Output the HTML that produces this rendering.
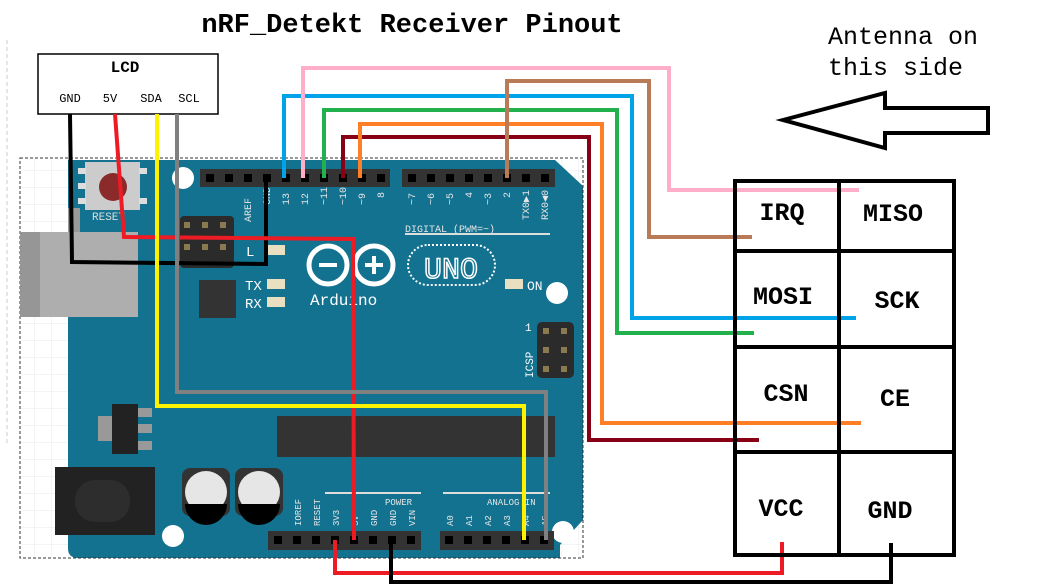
<!DOCTYPE html>
<html><head><meta charset="utf-8"><style>
html,body{margin:0;padding:0;background:#fff;}
svg{display:block;}
text{font-family:"Liberation Mono","DejaVu Sans Mono",monospace;}
</style></head><body>
<svg width="1040" height="585" viewBox="0 0 1040 585" xmlns="http://www.w3.org/2000/svg">
<defs>
<pattern id="grid" width="17" height="17" patternUnits="userSpaceOnUse">
<path d="M17 0H0V17" fill="none" stroke="#e4e8ec" stroke-width="1"/>
</pattern>
</defs>
<rect width="1040" height="585" fill="#fff"/>
<line x1="7" y1="40" x2="7" y2="445" stroke="#ccc" stroke-dasharray="4,3"/>
<text x="412" y="32" font-size="27" font-weight="bold" text-anchor="middle" fill="#000">nRF_Detekt Receiver Pinout</text>
<text x="828" y="44" font-size="25" fill="#000">Antenna on</text>
<text x="828" y="75" font-size="25" fill="#000">this side</text>
<polygon points="783,120 885,93 885,108 988,108 988,133 885,133 885,148" fill="#fff" stroke="#000" stroke-width="4" stroke-linejoin="miter"/>

<rect x="20" y="158" width="563" height="400" fill="url(#grid)"/>
<path d="M68,160 H555 L583,186 V520 L560,545 V558 H78 Q68,558 68,548 Z" fill="#127290"/>
<rect x="20" y="158" width="563" height="400" fill="none" stroke="#333" stroke-dasharray="3,2" stroke-width="1"/>
<rect x="20" y="232" width="118" height="85" fill="#aeaeae"/>
<rect x="20" y="232" width="20" height="85" fill="#969696"/>
<rect x="68" y="208" width="12" height="24" fill="#999"/>
<rect x="55" y="467" width="100" height="68" fill="#222"/>
<rect x="75" y="480" width="55" height="42" rx="20" fill="#2d2d2d"/>
<rect x="85" y="162" width="55" height="48" fill="#ccc"/>
<rect x="78" y="168" width="8" height="6" fill="#ddd"/><rect x="78" y="183" width="8" height="6" fill="#ddd"/><rect x="78" y="198" width="8" height="6" fill="#ddd"/>
<rect x="139" y="168" width="8" height="6" fill="#ddd"/><rect x="139" y="198" width="8" height="6" fill="#ddd"/>
<circle cx="113" cy="187" r="14" fill="#8a2a2a"/>
<text x="92" y="220" font-size="11" fill="#ddd">RESET</text>
<circle cx="183" cy="178" r="11" fill="#fff"/>
<circle cx="557" cy="293" r="11" fill="#fff"/>
<circle cx="563" cy="532" r="11" fill="#fff"/>
<circle cx="173" cy="536" r="11" fill="#fff"/>
<rect x="200" y="169" width="190" height="18" fill="#333"/>
<rect x="402" y="169" width="153" height="18" fill="#333"/>
<g fill="#000">
<rect x="206" y="174" width="8" height="8"/><rect x="225" y="174" width="8" height="8"/><rect x="244" y="174" width="8" height="8"/><rect x="263" y="174" width="8" height="8"/><rect x="282" y="174" width="8" height="8"/><rect x="301" y="174" width="8" height="8"/><rect x="320" y="174" width="8" height="8"/><rect x="339" y="174" width="8" height="8"/><rect x="358" y="174" width="8" height="8"/><rect x="377" y="174" width="8" height="8"/>
<rect x="408" y="174" width="8" height="8"/><rect x="427" y="174" width="8" height="8"/><rect x="446" y="174" width="8" height="8"/><rect x="465" y="174" width="8" height="8"/><rect x="484" y="174" width="8" height="8"/><rect x="503" y="174" width="8" height="8"/><rect x="522" y="174" width="8" height="8"/><rect x="541" y="174" width="8" height="8"/>
</g>
<g fill="#e6e6e6" font-size="10">
<text transform="translate(251,222) rotate(-90)">AREF</text>
<text transform="translate(270,205) rotate(-90)">GND</text>
<text transform="translate(289,205) rotate(-90)">13</text>
<text transform="translate(308,205) rotate(-90)">12</text>
<text transform="translate(327,205) rotate(-90)">~11</text>
<text transform="translate(346,205) rotate(-90)">~10</text>
<text transform="translate(365,205) rotate(-90)">~9</text>
<text transform="translate(384,198) rotate(-90)">8</text>
<text transform="translate(415,205) rotate(-90)">~7</text>
<text transform="translate(434,205) rotate(-90)">~6</text>
<text transform="translate(453,205) rotate(-90)">~5</text>
<text transform="translate(472,198) rotate(-90)">4</text>
<text transform="translate(491,205) rotate(-90)">~3</text>
<text transform="translate(510,198) rotate(-90)">2</text>
<text transform="translate(529,220) rotate(-90)">TX0▶1</text>
<text transform="translate(548,220) rotate(-90)">RX0◀0</text>
<text x="405" y="232">DIGITAL (PWM=~)</text>
</g>
<rect x="405" y="233" width="145" height="2" fill="#ddd"/>
<rect x="180" y="216" width="54" height="52" rx="4" fill="#2b2b2b"/>
<g fill="#8a7a50"><rect x="184" y="222" width="6" height="6"/><rect x="202" y="222" width="6" height="6"/><rect x="220" y="222" width="6" height="6"/><rect x="184" y="244" width="6" height="6"/><rect x="202" y="244" width="6" height="6"/><rect x="220" y="244" width="6" height="6"/></g>
<circle cx="328" cy="265" r="19" fill="none" stroke="#fff" stroke-width="5"/>
<circle cx="374" cy="265" r="19" fill="none" stroke="#fff" stroke-width="5"/>
<rect x="319" y="263" width="18" height="4" fill="#fff"/>
<rect x="365" y="263" width="18" height="4" fill="#fff"/><rect x="372" y="256" width="4" height="18" fill="#fff"/>
<rect x="408" y="245" width="87" height="40" rx="20" fill="none" stroke="#fff" stroke-width="2" stroke-dasharray="2,2"/>
<text x="451" y="278" font-family="Liberation Sans,sans-serif" font-size="30" fill="#127290" stroke="#fff" stroke-width="1.5" text-anchor="middle">UNO</text>
<text x="310" y="305" font-size="16" fill="#fff">Arduino</text>
<text x="246" y="256" font-size="14" fill="#fff">L</text>
<text x="245" y="290" font-size="14" fill="#fff">TX</text>
<text x="245" y="308" font-size="14" fill="#fff">RX</text>
<text x="527" y="290" font-size="13" fill="#fff">ON</text>
<g fill="#e8e0c0"><rect x="267" y="279" width="18" height="10"/><rect x="267" y="297" width="18" height="10"/><rect x="267" y="245" width="18" height="10"/><rect x="505" y="279" width="18" height="10"/></g>
<rect x="199" y="280" width="37" height="38" fill="#333"/>
<rect x="537" y="322" width="37" height="56" rx="5" fill="#2b2b2b"/>
<g fill="#8a7a50"><rect x="543" y="328" width="6" height="6"/><rect x="561" y="328" width="6" height="6"/><rect x="543" y="347" width="6" height="6"/><rect x="561" y="347" width="6" height="6"/><rect x="543" y="366" width="6" height="6"/><rect x="561" y="366" width="6" height="6"/></g>
<text transform="translate(533,378) rotate(-90)" font-size="11" fill="#fff">ICSP</text>
<text x="525" y="331" font-size="11" fill="#fff">1</text>
<rect x="98" y="416" width="15" height="25" fill="#999"/>
<rect x="138" y="408" width="14" height="9" fill="#999"/><rect x="138" y="424" width="14" height="9" fill="#999"/><rect x="138" y="441" width="14" height="9" fill="#999"/>
<rect x="112" y="404" width="26" height="50" fill="#222"/>
<rect x="277" y="416" width="278" height="41" fill="#333"/>
<rect x="182" y="468" width="48" height="48" rx="8" fill="#333"/>
<rect x="235" y="468" width="48" height="48" rx="8" fill="#333"/>
<circle cx="206" cy="492" r="21" fill="#e6e6e6"/><circle cx="259" cy="492" r="21" fill="#e6e6e6"/>
<path d="M185,504 A21,21 0 0 0 227,504 Z" fill="#000"/><path d="M238,504 A21,21 0 0 0 280,504 Z" fill="#000"/>
<rect x="268" y="531" width="153" height="19" fill="#333"/>
<rect x="440" y="531" width="114" height="19" fill="#333"/>
<g fill="#000">
<rect x="274" y="536" width="8" height="8"/><rect x="293" y="536" width="8" height="8"/><rect x="312" y="536" width="8" height="8"/><rect x="331" y="536" width="8" height="8"/><rect x="350" y="536" width="8" height="8"/><rect x="369" y="536" width="8" height="8"/><rect x="388" y="536" width="8" height="8"/><rect x="407" y="536" width="8" height="8"/>
<rect x="445" y="536" width="8" height="8"/><rect x="464" y="536" width="8" height="8"/><rect x="483" y="536" width="8" height="8"/><rect x="502" y="536" width="8" height="8"/><rect x="521" y="536" width="8" height="8"/><rect x="540" y="536" width="8" height="8"/>
</g>
<rect x="325" y="492" width="96" height="2" fill="#ddd"/>
<rect x="443" y="492" width="107" height="2" fill="#ddd"/>
<g fill="#e6e6e6" font-size="9">
<text x="385" y="505">POWER</text>
<text x="487" y="505">ANALOG IN</text>
<text transform="translate(301,526) rotate(-90)">IOREF</text>
<text transform="translate(320,526) rotate(-90)">RESET</text>
<text transform="translate(339,526) rotate(-90)">3V3</text>
<text transform="translate(358,526) rotate(-90)">5V</text>
<text transform="translate(377,526) rotate(-90)">GND</text>
<text transform="translate(396,526) rotate(-90)">GND</text>
<text transform="translate(415,526) rotate(-90)">VIN</text>
<text transform="translate(453,526) rotate(-90)">A0</text>
<text transform="translate(472,526) rotate(-90)">A1</text>
<text transform="translate(491,526) rotate(-90)">A2</text>
<text transform="translate(510,526) rotate(-90)">A3</text>
<text transform="translate(529,526) rotate(-90)">A4</text>
<text transform="translate(548,526) rotate(-90)">A5</text>
</g>

<rect x="38" y="54" width="180" height="60" fill="#fff" stroke="#000" stroke-width="1.5"/>
<text x="125" y="72" font-size="16" font-weight="bold" text-anchor="middle">LCD</text>
<g font-size="12" text-anchor="middle"><text x="70" y="102">GND</text><text x="110" y="102">5V</text><text x="151" y="102">SDA</text><text x="189" y="102">SCL</text></g>

<g fill="none" stroke-width="4" stroke-linejoin="miter">
<polyline points="70,114 72,262 266,264 266,175" stroke="#000"/>
<polyline points="115,114 124,237 353,239 354,540" stroke="#ed1c24"/>
<polyline points="157,114 157,406 524,406 524,540" stroke="#fff200"/>
<polyline points="177,114 177,392 546,392 546,540" stroke="#808080"/>
<polyline points="284,178 284,96 632,96 632,318 856,318" stroke="#00a2e8"/>
<polyline points="303,178 303,68 669,68 669,190 859,190" stroke="#ffaec9"/>
<polyline points="324,178 324,110 617,110 617,333 754,333" stroke="#22b14c"/>
<polyline points="343,178 343,137 589,137 589,440 759,440" stroke="#880015"/>
<polyline points="360,178 360,124 602,124 602,423 861,423" stroke="#ff7f27"/>
<polyline points="507,178 507,81 649,81 649,237 752,237" stroke="#b97a57"/>
<polyline points="335,540 335,573 782,573 782,542" stroke="#ed1c24"/>
<polyline points="391,540 391,582 891,582 891,543" stroke="#000"/>
</g>

<g stroke="#000" stroke-width="4" fill="none">
<rect x="735" y="181" width="219" height="374"/>
<line x1="839" y1="181" x2="839" y2="555"/>
<line x1="735" y1="251" x2="954" y2="251"/>
<line x1="735" y1="347" x2="954" y2="347"/>
<line x1="735" y1="452" x2="954" y2="452"/>
</g>
<g font-size="25" font-weight="bold" text-anchor="middle" fill="#000">
<text x="782" y="220">IRQ</text>
<text x="893" y="221">MISO</text>
<text x="783" y="304">MOSI</text>
<text x="897" y="308">SCK</text>
<text x="786" y="401">CSN</text>
<text x="895" y="406">CE</text>
<text x="781" y="516">VCC</text>
<text x="890" y="518">GND</text>
</g>
</svg>
</body></html>
